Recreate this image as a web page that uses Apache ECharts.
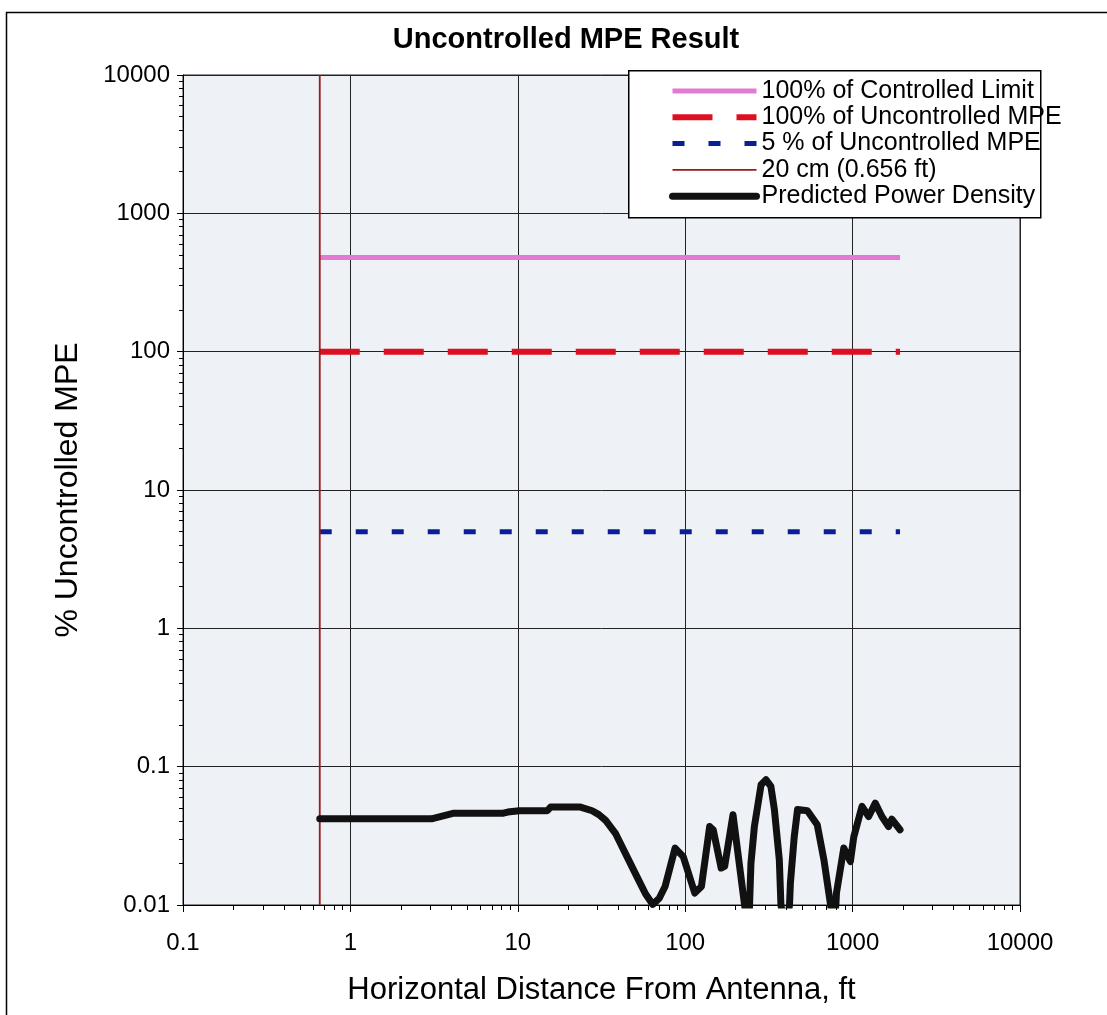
<!DOCTYPE html>
<html lang="en">

<head>
    <meta charset="UTF-8">
    <title>Uncontrolled MPE Result</title>
    <script src="https://cdn.jsdelivr.net/npm/echarts@6/dist/echarts.min.js"></script>
    <style>
        body { margin: 0; background: #fff; }
    </style>
</head>

<body>
    <div id="main" style="width: 1107px;height: 1015px;"></div>
    <script>
        // 图例名称
        var seriesNames = ['100% of Controlled Limit', '100% of Uncontrolled MPE', '5 % of Uncontrolled MPE', '20 cm (0.656 ft)', 'Predicted Power Density']
        // 水平参考线 [x, y]
        var controlledLimit = [[0.656, 480], [1920, 480]]
        var uncontrolledMpe = [[0.656, 100], [1920, 100]]
        var fivePctMpe = [[0.656, 5], [1920, 5]]
        // 20 cm 竖线
        var nearLine = [[0.656, 0.01], [0.656, 10000]]
        // 预测功率密度曲线 (距离 ft, % MPE)
        var distFt = [0.656, 1, 2, 3.05, 4.1, 8.1, 8.7, 10.2, 15, 15.7, 23.7, 27.8, 30.5, 33.4, 38.3, 45.9, 52.6, 58, 64, 70, 75.8, 87, 97.3, 114, 125, 140, 147, 164, 172, 193, 226, 237, 242, 247, 259, 284, 304, 325, 341, 365, 373, 398, 420, 425, 448, 469, 537, 615, 674, 738, 766, 795, 801, 886, 970, 1016, 1138, 1247, 1366, 1496, 1640, 1715, 1920]
        var pctMpe = [0.042, 0.042, 0.042, 0.042, 0.046, 0.046, 0.047, 0.048, 0.048, 0.051, 0.051, 0.048, 0.045, 0.041, 0.033, 0.0212, 0.0152, 0.012, 0.0101, 0.0112, 0.0136, 0.0258, 0.0224, 0.0122, 0.0136, 0.0369, 0.035, 0.0185, 0.019, 0.0449, 0.0101, 0.007, 0.0095, 0.02, 0.0369, 0.074, 0.0805, 0.072, 0.049, 0.0212, 0.0101, 0.006, 0.0101, 0.0144, 0.031, 0.049, 0.048, 0.038, 0.0212, 0.0101, 0.007, 0.0101, 0.0122, 0.0258, 0.0206, 0.031, 0.0516, 0.0436, 0.0545, 0.0436, 0.0369, 0.0417, 0.035]

        var curve = distFt.map(function (d, i) { return [d, pctMpe[i]] })

        var fmt = function (v) { return String(+v.toPrecision(6)) }
        var font = 'Liberation Sans, Arial, sans-serif'

        // 各系列样式，图例沿用
        var pinkStyle = { color: '#e27ad2', width: 5 }
        var redStyle = { color: '#dd1022', width: 6, type: [40, 24] }
        var blueStyle = { color: '#0a1f96', width: 5, type: [12, 24] }
        var brownStyle = { color: '#9a1b1b', width: 1.8 }
        var blackStyle = { color: '#111', width: 7, cap: 'round', join: 'round' }
        var styles = [pinkStyle, redStyle, blueStyle, brownStyle, blackStyle]

        var myCharts = echarts.init(document.getElementById('main'))
        var option = {
            animation: false,
            backgroundColor: '#fff',
            textStyle: { fontFamily: font },
            title: {
                text: 'Uncontrolled MPE Result',
                left: 561,
                textAlign: 'center',
                top: 20,
                textStyle: { fontSize: 29, fontWeight: 'bold', color: '#000', fontFamily: font }
            },
            // 外框 + 图例框
            graphic: [
                {
                    type: 'rect', left: 4, top: 10, z: 100,
                    shape: { width: 1200, height: 1100 },
                    style: { fill: 'none', stroke: '#000', lineWidth: 1.5 }
                },
                {
                    type: 'rect', left: 628, top: 70, z: 100,
                    shape: { width: 412, height: 147 },
                    style: { fill: '#fff', stroke: '#000', lineWidth: 1.5 }
                }
            ],
            legend: {
                data: seriesNames.map(function (n, i) {
                    return { name: n, lineStyle: styles[i] }
                }),
                orient: 'vertical',
                left: 628,
                top: 70,
                padding: [8, 0, 6, 41],
                itemWidth: 84,
                itemHeight: 12,
                itemGap: 0.3,
                z: 200,
                itemStyle: { opacity: 0 },
                textStyle: { fontSize: 25, lineHeight: 26, color: '#000', fontFamily: font }
            },
            grid: {
                left: 183,
                right: 87,
                top: 75,
                bottom: 110,
                show: true,
                backgroundColor: '#eef1f6',
                borderColor: '#222',
                borderWidth: 1
            },
            xAxis: {
                type: 'log',
                logBase: 10,
                min: 0.1,
                max: 10000,
                name: 'Horizontal Distance From Antenna, ft',
                nameLocation: 'middle',
                nameGap: 70,
                nameTextStyle: { fontSize: 31, color: '#000', fontFamily: font },
                axisLine: { show: true, lineStyle: { color: '#000', width: 1 } },
                axisTick: { show: true, length: 7, lineStyle: { color: '#000' } },
                minorTick: { show: true, splitNumber: 9, length: 5, lineStyle: { color: '#000' } },
                axisLabel: { fontSize: 24, color: '#000', margin: 26, formatter: fmt },
                splitLine: { show: true, lineStyle: { color: '#222', width: 1 } }
            },
            yAxis: {
                type: 'log',
                logBase: 10,
                min: 0.01,
                max: 10000,
                name: '% Uncontrolled MPE',
                nameLocation: 'middle',
                nameGap: 99,
                nameTextStyle: { fontSize: 32, color: '#000', fontFamily: font },
                axisLine: { show: true, lineStyle: { color: '#000', width: 1 } },
                axisTick: { show: true, length: 6, lineStyle: { color: '#000' } },
                minorTick: { show: true, splitNumber: 9, length: 4, lineStyle: { color: '#000' } },
                axisLabel: { fontSize: 24, color: '#000', margin: 13, formatter: fmt },
                splitLine: { show: true, lineStyle: { color: '#222', width: 1 } }
            },
            series: [
                {
                    name: seriesNames[0],
                    type: 'line',
                    data: controlledLimit,
                    symbol: 'none',
                    lineStyle: pinkStyle,
                    itemStyle: { color: pinkStyle.color }
                },
                {
                    name: seriesNames[1],
                    type: 'line',
                    data: uncontrolledMpe,
                    symbol: 'none',
                    lineStyle: redStyle,
                    itemStyle: { color: redStyle.color }
                },
                {
                    name: seriesNames[2],
                    type: 'line',
                    data: fivePctMpe,
                    symbol: 'none',
                    lineStyle: blueStyle,
                    itemStyle: { color: blueStyle.color }
                },
                {
                    name: seriesNames[3],
                    type: 'line',
                    data: nearLine,
                    symbol: 'none',
                    lineStyle: brownStyle,
                    itemStyle: { color: brownStyle.color }
                },
                {
                    name: seriesNames[4],
                    type: 'line',
                    data: curve,
                    symbol: 'none',
                    z: 5,
                    lineStyle: blackStyle,
                    itemStyle: { color: blackStyle.color }
                }
            ]
        }
        myCharts.setOption(option)
    </script>
</body>

</html>
